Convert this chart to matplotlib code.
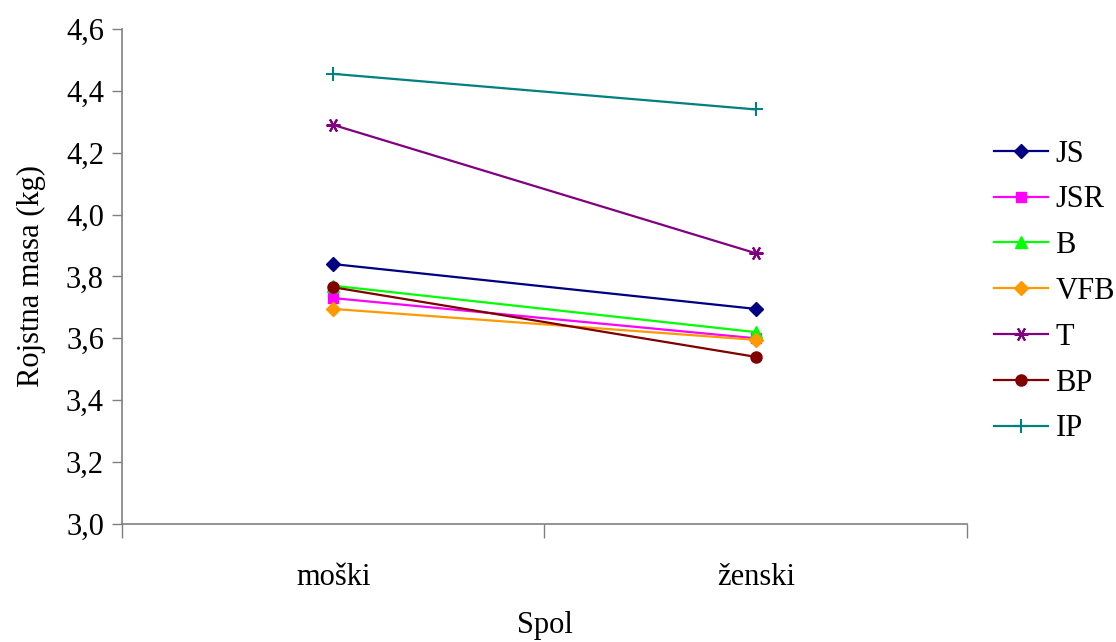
import matplotlib.pyplot as plt
from matplotlib.ticker import FuncFormatter, FixedLocator

# Birth weight by sex for each group
categories = ["moški", "ženski"]
series_names = ["JS", "JSR", "B", "VFB", "T", "BP", "IP"]
js = [3.84, 3.695]
jsr = [3.73, 3.60]
b = [3.77, 3.62]
vfb = [3.695, 3.595]
t = [4.29, 3.875]
bp = [3.765, 3.54]
ip = [4.455, 4.34]

styles = {
  "JS": dict(color="#000080", marker="D", ms=7),
  "JSR": dict(color="#FF00FF", marker="s", ms=7),
  "B": dict(color="#00FF00", marker="^", ms=8),
  "VFB": dict(color="#FF9900", marker="D", ms=7),
  "T": dict(color="#800080", marker=(6, 2, 30), ms=10),
  "BP": dict(color="#800000", marker="o", ms=8),
  "IP": dict(color="#008080", marker="+", ms=10),
}

plt.rcParams["font.family"] = ["Liberation Serif", "DejaVu Serif"]

fig = plt.figure(figsize=(11.16, 6.42), dpi=100)
ax = fig.add_axes([0.1093, 0.184, 0.7572, 0.7708])

xpos = [i + 0.5 for i in range(len(categories))]
for name, vals in zip(series_names, [js, jsr, b, vfb, t, bp, ip]):
  st = styles[name]
  ax.plot(xpos, vals, color=st["color"], marker=st["marker"], markersize=st["ms"],
          markeredgewidth=1.5 if name in ("T", "IP") else 1.0,
          lw=1.6, label=name)

ax.set_xlim(0, len(categories))
ax.set_ylim(3.0, 4.6)
ax.set_yticks([3.0 + 0.2 * i for i in range(9)])
ax.yaxis.set_major_formatter(FuncFormatter(lambda v, _: f"{v:.1f}".replace(".", ",")))

# category labels sit between the boundary ticks
ax.xaxis.set_major_locator(FixedLocator([0, 1, 2]))
ax.set_xticklabels([])
ax.xaxis.set_minor_locator(FixedLocator(xpos))
ax.set_xticklabels(categories, minor=True)
ax.tick_params(axis="x", which="major", length=10, width=1, color="#808080", direction="out")
ax.tick_params(axis="x", which="minor", length=0, labelsize=22, pad=28)
ax.tick_params(axis="y", length=7, width=1, color="#808080", labelsize=22, pad=6)

for side in ("top", "right"):
  ax.spines[side].set_visible(False)
for side in ("left", "bottom"):
  ax.spines[side].set_color("#808080")
  ax.spines[side].set_linewidth(1.2)

ax.set_ylabel("Rojstna masa (kg)", fontsize=22, labelpad=14)
ax.set_xlabel("Spol", fontsize=22, labelpad=14)

fig.legend(loc="center left", bbox_to_anchor=(0.891, 0.546), frameon=False,
           fontsize=22, handlelength=1.75, labelspacing=0.55, handletextpad=0.25,
           borderaxespad=0, borderpad=0)

fig.savefig("out.png", dpi=100)
